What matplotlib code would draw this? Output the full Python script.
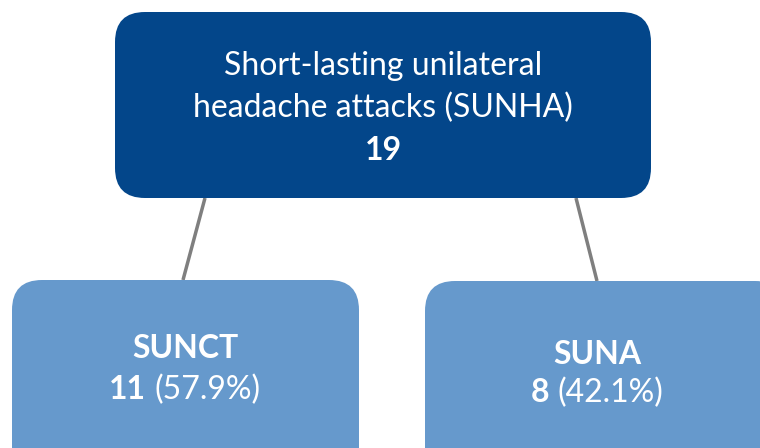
import matplotlib
matplotlib.use("Agg")
import matplotlib.pyplot as plt
from matplotlib.patches import FancyBboxPatch
from matplotlib.offsetbox import TextArea, HPacker, AnnotationBbox

plt.rcParams['font.family'] = ['Lato', 'DejaVu Sans']

# Data
root_title = ["Short-lasting unilateral", "headache attacks (SUNHA)"]
root_total = 19
child_names = ["SUNCT", "SUNA"]
child_counts = [11, 8]
child_pcts = ["57.9%", "42.1%"]

# Layout (pixel coordinates)
W, H = 760, 448
root_box = (115, 12, 536, 186)
child_boxes = [(12, 280, 347, 200), (425, 281, 360, 200)]
connectors = [((205, 198), (183, 280)), ((576, 198), (597, 281))]
dark = "#03468A"
light = "#6699CC"
line_col = "#7F7F7F"

fig = plt.figure(figsize=(W / 100, H / 100), dpi=100)
ax = fig.add_axes([0, 0, 1, 1])
ax.set_xlim(0, W)
ax.set_ylim(H, 0)
ax.axis("off")

for (p0, p1) in connectors:
    ax.plot([p0[0], p1[0]], [p0[1], p1[1]], color=line_col, lw=2.5, zorder=1,
            solid_capstyle="butt")

def rbox(x, y, w, h, color, r=30):
    p = FancyBboxPatch((x + r, y + r), w - 2 * r, h - 2 * r,
                       boxstyle=f"round,pad={r}", fc=color, ec="none", zorder=2)
    ax.add_patch(p)

rbox(*root_box, dark)
for b in child_boxes:
    rbox(*b, light)

fs = 23
cx = root_box[0] + root_box[2] / 2
ax.text(cx, 66, root_title[0], color="white", fontsize=fs, ha="center", va="center", zorder=3)
ax.text(cx, 108, root_title[1], color="white", fontsize=fs, ha="center", va="center", zorder=3)
ax.text(cx, 150, str(root_total), color="white", fontsize=fs, fontweight="bold",
        ha="center", va="center", zorder=3)

name_y = [348, 355]
val_y = [390, 393]
centers = [185, 597]
for i in range(2):
    ax.text(centers[i], name_y[i], child_names[i], color="white", fontsize=fs,
            fontweight="bold", ha="center", va="center", zorder=3)
    t1 = TextArea(str(child_counts[i]), textprops=dict(color="white", fontsize=fs, fontweight="bold"))
    t2 = TextArea(f"({child_pcts[i]})", textprops=dict(color="white", fontsize=fs))
    pack = HPacker(children=[t1, t2], pad=0, sep=6, align="baseline")
    ab = AnnotationBbox(pack, (centers[i], val_y[i]), frameon=False,
                        box_alignment=(0.5, 0.5), zorder=3)
    ax.add_artist(ab)

fig.savefig("out.png", dpi=100)
